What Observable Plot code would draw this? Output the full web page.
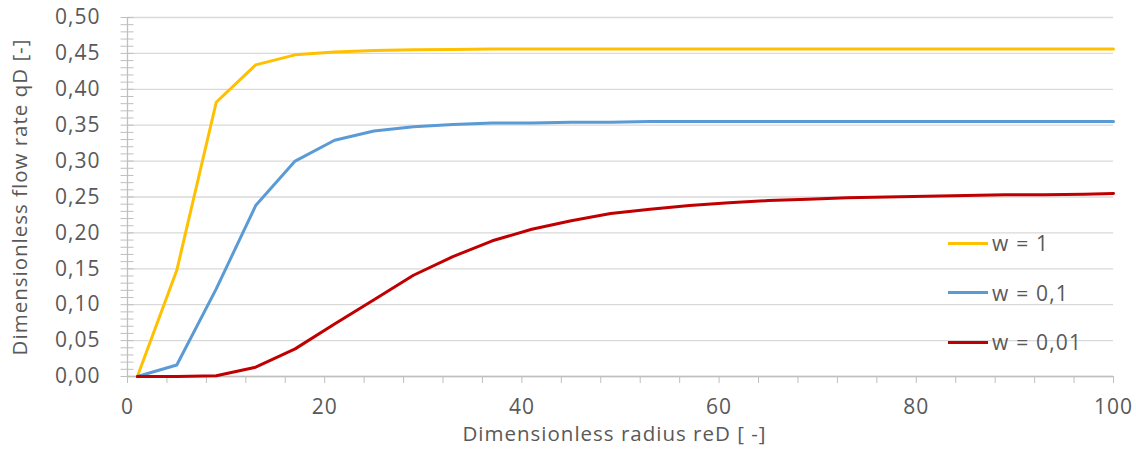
<!DOCTYPE html>
<html>
<head>
<meta charset="utf-8">
<script src="https://cdn.jsdelivr.net/npm/d3@7"></script>
<script src="https://cdn.jsdelivr.net/npm/@observablehq/plot@0.6"></script>
<style>
  html, body { margin: 0; padding: 0; background: #ffffff; }
  #wrap { position: relative; width: 1136px; height: 462px; font-family: "Open Sans", sans-serif; }
  #wrap svg text { letter-spacing: 1px; }
  .legend { position: absolute; left: 948px; top: 228px; color: #595959; font-size: 21px; letter-spacing: 1.2px; }
  .legend .item { display: flex; align-items: center; height: 30px; margin-bottom: 19.5px; }
  .legend .sw { width: 40px; height: 3px; margin-right: 4px; }
</style>
</head>
<body>
<div id="wrap"></div>
<script>
// Dimensionless radius reD
const radius = [1, 5, 9, 13, 17, 21, 25, 29, 33, 37, 41, 45, 49, 53, 57, 61, 65, 69, 73, 77, 81, 85, 89, 93, 97, 100];
// Dimensionless flow rate qD per series
const qW1    = [0, 0.148, 0.382, 0.434, 0.448, 0.452, 0.454, 0.455, 0.4555, 0.456, 0.456, 0.456, 0.456, 0.456, 0.456, 0.456, 0.456, 0.456, 0.456, 0.456, 0.456, 0.456, 0.456, 0.456, 0.456, 0.456];
const qW01   = [0, 0.016, 0.122, 0.238, 0.300, 0.329, 0.342, 0.348, 0.351, 0.353, 0.353, 0.354, 0.354, 0.355, 0.355, 0.355, 0.355, 0.355, 0.355, 0.355, 0.355, 0.355, 0.355, 0.355, 0.355, 0.355];
const qW001  = [0, 0, 0.001, 0.013, 0.0385, 0.073, 0.107, 0.141, 0.167, 0.189, 0.205, 0.217, 0.227, 0.233, 0.238, 0.242, 0.245, 0.247, 0.249, 0.250, 0.251, 0.252, 0.253, 0.253, 0.254, 0.255];

const seriesNames  = ["w = 1", "w = 0,1", "w = 0,01"];
const seriesColors = ["#FFC000", "#5B9BD5", "#C00000"];
const seriesValues = [qW1, qW01, qW001];

const yTicks      = [0, 0.05, 0.10, 0.15, 0.20, 0.25, 0.30, 0.35, 0.40, 0.45, 0.50];
const yMinorTicks = d3.range(0, 51).map(i => i / 100);
const xTicks      = [0, 20, 40, 60, 80, 100];
const xMinorTicks = d3.range(0, 101, 4);

const xTitle = "Dimensionless radius reD [ -]";
const yTitle = "Dimensionless flow rate qD [-]";

const rows = [];
seriesNames.forEach((name, i) => {
  radius.forEach((r, j) => rows.push({r, q: seriesValues[i][j], w: name}));
});

const fmt = d => d.toFixed(2).replace(".", ",");
const textColor = "#595959";
const axisColor = "#bfbfbf";

const chart = Plot.plot({
  width: 1136,
  height: 462,
  marginLeft: 127,
  marginRight: 23,
  marginTop: 17,
  marginBottom: 86,
  style: { fontFamily: "Open Sans, sans-serif", fontSize: "21px", color: textColor, background: "#ffffff" },
  x: { domain: [0, 100] },
  y: { domain: [0, 0.5] },
  color: { domain: seriesNames, range: seriesColors },
  marks: [
    Plot.gridY(yTicks, { stroke: "#d9d9d9", strokeOpacity: 1, strokeWidth: 1.3 }),
    Plot.axisY(yMinorTicks, { tickSize: 13, dx: 6.5, tickFormat: () => "", stroke: axisColor, label: null }),
    Plot.axisY(yTicks, { tickSize: 0, tickPadding: 27, tickFormat: fmt, fill: textColor, fontSize: 21, label: null }),
    Plot.axisX(xMinorTicks, { tickSize: 7, tickFormat: () => "", stroke: axisColor, label: null }),
    Plot.axisX(xTicks, { tickSize: 0, tickPadding: 23, tickFormat: d => String(d), fill: textColor, fontSize: 21, label: null }),
    Plot.ruleX([0], { stroke: axisColor, strokeWidth: 1.3 }),
    Plot.ruleY([0], { stroke: axisColor, strokeWidth: 1.3 }),
    Plot.line(rows, { x: "r", y: "q", z: "w", stroke: "w", strokeWidth: 3, strokeLinejoin: "round" }),
    Plot.text([yTitle], { text: d => d, frameAnchor: "left", textAnchor: "middle", dx: -107, rotate: -90, fill: textColor, fontSize: 20.5 }),
    Plot.text([xTitle], { text: d => d, frameAnchor: "bottom", dx: -6, dy: 64, fill: textColor, fontSize: 20.5 })
  ]
});

const wrap = document.getElementById("wrap");
wrap.appendChild(chart);

const legend = document.createElement("div");
legend.className = "legend";
seriesNames.forEach((name, i) => {
  const item = document.createElement("div");
  item.className = "item";
  const sw = document.createElement("div");
  sw.className = "sw";
  sw.style.background = seriesColors[i];
  const label = document.createElement("span");
  label.textContent = name;
  item.appendChild(sw);
  item.appendChild(label);
  legend.appendChild(item);
});
wrap.appendChild(legend);
</script>
</body>
</html>
